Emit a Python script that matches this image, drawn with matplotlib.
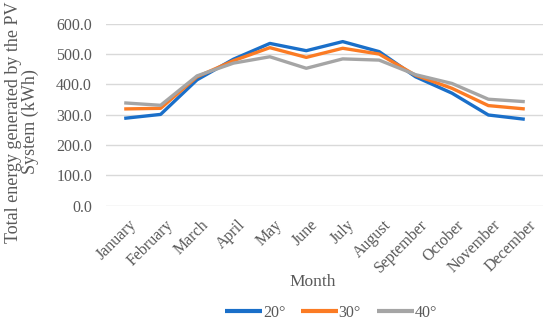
import matplotlib
matplotlib.use("Agg")
import matplotlib.pyplot as plt
import matplotlib.transforms as mtransforms

months = ["January", "February", "March", "April", "May", "June", "July",
          "August", "September", "October", "November", "December"]
s20 = [288, 301, 415, 483, 535, 511, 541, 508, 425, 371, 299, 285]
s30 = [319, 321, 425, 478, 521, 489, 519, 500, 430, 387, 330, 319]
s40 = [339, 331, 428, 470, 491, 453, 484, 480, 432, 403, 351, 343]
yticks = [0, 100, 200, 300, 400, 500, 600]
labels = ["20°", "30°", "40°"]
colors = ["#1a6fc9", "#fb7b24", "#a5a5a5"]

plt.rcParams['font.family'] = ['Liberation Serif', 'DejaVu Serif']
txt = "#595959"

fig = plt.figure(figsize=(5.5, 3.22), dpi=100)
ax = fig.add_axes([106/550, 1-205.7/322, 437/550, (205.7-23.7)/322])
x = list(range(len(months)))
for s, lab, c in zip([s20, s30, s40], labels, colors):
    ax.plot(x, s, color=c, lw=2.4, label=lab, solid_capstyle='butt')

ax.set_xlim(-0.5, len(months)-0.5)
ax.set_ylim(0, 600)
ax.set_yticks(yticks)
ax.set_yticklabels([f"{v:.1f}" for v in yticks], fontsize=11.5, color=txt)
ax.set_xticks(x)
ax.set_xticklabels(months, rotation=45, ha='right', rotation_mode='anchor',
                   fontsize=11.5, color=txt)
ax.tick_params(axis='y', length=0, pad=10)
ax.tick_params(axis='x', length=0, pad=8)
off = mtransforms.ScaledTranslation(4/100, 0, fig.dpi_scale_trans)
for lbl in ax.get_xticklabels():
    lbl.set_transform(lbl.get_transform() + off)
ax.grid(axis='y', color='#d9d9d9', lw=1)
ax.set_axisbelow(True)
for sp in ax.spines.values():
    sp.set_visible(False)

fig.text(22/550, 1-122/322, "Total energy generated by the PV\nSystem (kWh)",
         rotation=90, ha='center', va='center', fontsize=13, color=txt,
         linespacing=1.05)
fig.text(313/550, 1-282/322, "Month", ha='center', va='center', fontsize=12.5, color=txt)
leg = fig.legend(loc='center', bbox_to_anchor=(331/550, 1-313/322), ncol=3,
                 frameon=False, fontsize=11.5, handlelength=2.3, columnspacing=1.0,
                 handletextpad=0.05)
for t in leg.get_texts():
    t.set_color(txt)
for l in leg.get_lines():
    l.set_linewidth(3)

fig.savefig("out.png", dpi=100)
